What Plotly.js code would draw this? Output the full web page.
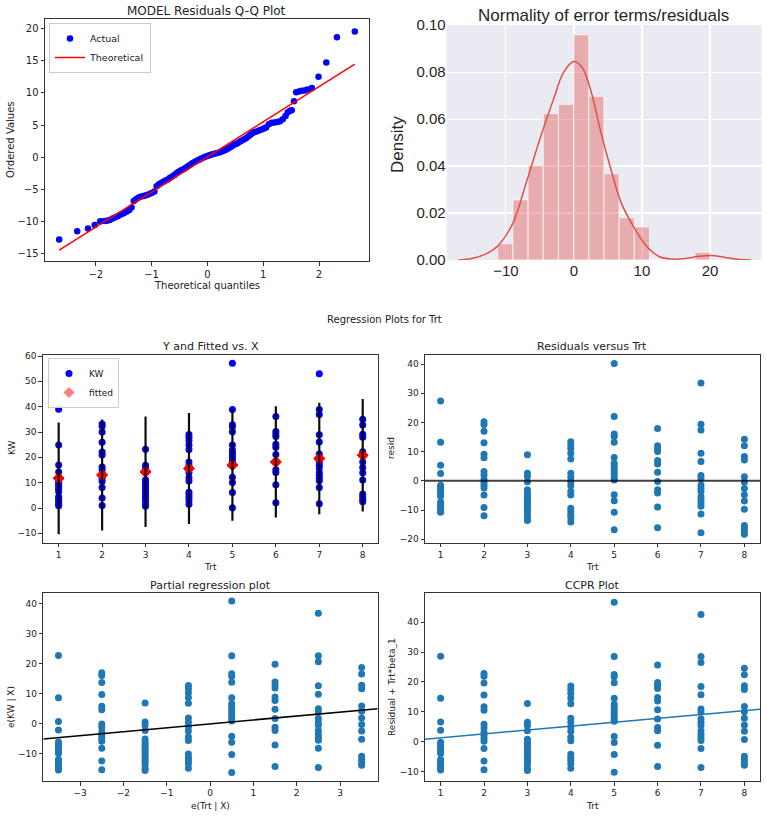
<!DOCTYPE html>
<html><head><meta charset="utf-8">
<script src="https://cdn.plot.ly/plotly-3.0.1.min.js"></script>
<style>html,body{margin:0;padding:0;background:#fff}#chart{width:767px;height:816px}</style>
</head><body><div id="chart"></div>
<script>
// ---------- Q-Q plot ----------
const qqTheoretical = [-2.656,-2.333,-2.14,-2.02,-1.92,-1.85,-1.80,-1.75,-1.70,-1.65,-1.60,-1.55,-1.50,-1.45,-1.40,-1.36,-1.32,-1.28,-1.24,-1.20,-1.15,-1.10,-1.05,-1.00,-0.95,-0.91,-0.87,-0.83,-0.79,-0.75,-0.71,-0.67,-0.63,-0.59,-0.55,-0.51,-0.47,-0.43,-0.39,-0.35,-0.31,-0.27,-0.23,-0.19,-0.15,-0.11,-0.07,-0.03,0.01,0.05,0.09,0.13,0.17,0.21,0.25,0.29,0.33,0.37,0.41,0.45,0.49,0.53,0.57,0.61,0.65,0.69,0.73,0.77,0.81,0.85,0.89,0.93,0.97,1.01,1.05,1.10,1.15,1.20,1.25,1.30,1.35,1.40,1.44,1.48,1.51,1.55,1.59,1.64,1.69,1.74,1.79,1.87,1.99,2.13,2.32,2.64];
const qqOrdered = [-12.75,-11.5,-11.05,-10.5,-9.95,-9.9,-9.85,-9.75,-9.5,-9.3,-9.1,-8.9,-8.7,-8.45,-8.2,-7.8,-6.8,-6.5,-6.3,-6.15,-6.0,-5.9,-5.75,-5.55,-5.3,-4.5,-4.2,-4.0,-3.8,-3.6,-3.45,-3.2,-3.0,-2.75,-2.45,-2.2,-2.0,-1.85,-1.65,-1.4,-1.15,-0.95,-0.75,-0.55,-0.4,-0.2,-0.05,0.1,0.25,0.35,0.45,0.55,0.65,0.75,0.85,1.0,1.15,1.35,1.55,1.8,2.0,2.15,2.35,2.55,2.75,2.95,3.2,3.5,3.75,3.9,4.05,4.2,4.3,4.45,4.6,5.1,5.35,5.4,5.45,5.6,5.9,6.4,7.0,7.2,7.3,8.7,10.1,10.2,10.3,10.35,10.5,10.75,12.5,14.7,18.6,19.5];
const qqLineX = [-2.656, 2.64];
const qqLineY = [-14.41, 14.43];

// ---------- Histogram + KDE ----------
const histBinCenters = [-10.085,-7.855,-5.625,-3.395,-1.165,1.065,3.295,5.525,7.755,9.985,12.215,14.445,16.675,18.905];
const histDensity = [0.0069,0.0256,0.0403,0.0624,0.0663,0.0959,0.0697,0.0367,0.0180,0.0141,0,0,0,0.0033];
const histBinWidth = 2.23;
const kdeX = [-17,-15,-13,-11.2,-9,-7,-5,-3,-1.5,0,1.2,2.5,4,5.5,7,8.8,10.5,12.5,14.5,16.5,18.5,20.2,22,24,26];
const kdeY = [0.0000,0.0006,0.0025,0.0060,0.0155,0.0330,0.0515,0.0685,0.0800,0.0845,0.0820,0.0720,0.0540,0.0380,0.0240,0.0140,0.0065,0.0015,0.0004,0.0007,0.0016,0.0019,0.0012,0.0003,0.0000];

// ---------- Regression on Trt (residuals per treatment) ----------
const trtLevels = [1,2,3,4,5,6,7,8];
const residTrt1 = [27.3,13.2,5.3,2.5,-1.5,-2.2,-3.0,-3.8,-4.5,-5.3,-7.3,-8.0,-8.7,-9.5,-10.3,-10.8];
const residTrt2 = [20.2,19.3,17.0,13.0,9.1,7.9,3.2,2.0,0.5,-0.5,-1.5,-2.5,-4.9,-9.1,-12.0];
const residTrt3 = [8.9,2.6,1.5,-0.3,-3.1,-4.0,-4.8,-5.6,-6.4,-7.2,-8.0,-8.9,-9.8,-10.6,-11.5,-12.8,-13.6];
const residTrt4 = [13.4,12.3,11.0,9.4,7.5,2.6,1.2,-0.3,-1.7,-3.7,-4.9,-9.4,-10.5,-11.5,-12.6,-14.1];
const residTrt5 = [40.2,22.0,16.0,15.2,13.2,8.0,6.0,5.0,4.0,3.0,2.0,1.0,0.3,-4.8,-6.8,-10.8,-16.8];
const residTrt6 = [17.9,12.0,11.0,10.0,7.0,5.8,2.9,-0.2,-3.1,-4.2,-9.0,-16.1];
const residTrt7 = [33.5,19.4,17.4,9.4,6.6,1.8,0.8,-1.4,-2.6,-3.7,-5.5,-6.6,-7.7,-8.7,-11.4,-17.8];
const residTrt8 = [14.2,12.0,8.3,7.1,1.4,-0.4,-2.6,-4.8,-6.9,-9.7,-15.3,-16.3,-17.3,-18.3];
const interceptB0 = 10.4;
const slopeB1 = 1.3;
const trtMean = 4.5;
const predIntervalHalf = [22.1,21.9,21.8,21.9,21.9,22.0,22.0,22.2];

// ---------- derived per-observation series ----------
const residGroups = [residTrt1,residTrt2,residTrt3,residTrt4,residTrt5,residTrt6,residTrt7,residTrt8];
const obsTrt = [], obsResid = [];
trtLevels.forEach((t,i)=>residGroups[i].forEach(r=>{obsTrt.push(t); obsResid.push(r);}));
const obsFitted = obsTrt.map(t=>interceptB0 + slopeB1*t);
const obsKW = obsResid.map((r,i)=>r + obsFitted[i]);
const kwMean = interceptB0 + slopeB1*trtMean;
const partialX = obsTrt.map(t=>t - trtMean);
const partialY = obsKW.map(v=>v - kwMean);
const ccprY = obsResid.map((r,i)=>r + slopeB1*obsTrt[i]);
const levelFitted = trtLevels.map(t=>interceptB0 + slopeB1*t);

const W = 767, H = 816;
const fx = p => p / W, fy = p => 1 - p / H;

const rangeTrt = [0.64, 8.36];
const rangePartialX = [-3.85, 3.87];

const C0 = '#1f77b4';
const traces = [
  {type:'scatter', mode:'markers', x:qqTheoretical, y:qqOrdered, name:'Actual', marker:{color:'#0000ff', size:6.5}, xaxis:'x', yaxis:'y', legend:'legend'},
  {type:'scatter', mode:'lines', x:qqLineX, y:qqLineY, name:'Theoretical', line:{color:'#ff0000', width:1.5}, xaxis:'x', yaxis:'y', legend:'legend'},
  {type:'bar', x:histBinCenters, y:histDensity, width:histBinWidth, marker:{color:'rgba(225,80,75,0.4)', line:{color:'rgba(255,255,255,0.7)', width:1}}, xaxis:'x2', yaxis:'y2', showlegend:false},
  {type:'scatter', mode:'lines', x:kdeX, y:kdeY, line:{color:'rgb(225,80,75)', width:1.5, shape:'spline', smoothing:1}, xaxis:'x2', yaxis:'y2', showlegend:false},
  {type:'scatter', mode:'markers', x:obsTrt, y:obsKW, name:'KW', marker:{color:'#0000ff', size:7}, xaxis:'x3', yaxis:'y3', legend:'legend2'},
  {type:'scatter', mode:'markers', x:obsTrt, y:obsFitted, name:'fitted', marker:{color:'rgba(255,0,0,0.5)', size:8.5, symbol:'diamond'}, xaxis:'x3', yaxis:'y3', legend:'legend2'},
  {type:'scatter', mode:'markers', x:trtLevels, y:levelFitted, marker:{size:1, color:'rgba(0,0,0,0)'}, error_y:{type:'data', array:predIntervalHalf, visible:true, color:'rgba(0,0,0,0.95)', thickness:2.2, width:0}, xaxis:'x3', yaxis:'y3', showlegend:false},
  {type:'scatter', mode:'markers', x:obsTrt, y:obsResid, marker:{color:C0, size:7}, xaxis:'x4', yaxis:'y4', showlegend:false},
  {type:'scatter', mode:'markers', x:partialX, y:partialY, marker:{color:C0, size:7}, xaxis:'x5', yaxis:'y5', showlegend:false},
  {type:'scatter', mode:'lines', x:rangePartialX, y:rangePartialX.map(v=>slopeB1*v), line:{color:'#000', width:1.5}, xaxis:'x5', yaxis:'y5', showlegend:false},
  {type:'scatter', mode:'markers', x:obsTrt, y:ccprY, marker:{color:C0, size:7}, xaxis:'x6', yaxis:'y6', showlegend:false},
  {type:'scatter', mode:'lines', x:rangeTrt, y:rangeTrt.map(v=>slopeB1*v), line:{color:C0, width:1.5}, xaxis:'x6', yaxis:'y6', showlegend:false}
];

const mpl = (extra) => Object.assign({
  showline:true, mirror:true, linecolor:'#333', linewidth:1,
  ticks:'outside', ticklen:3.5, tickwidth:1, tickcolor:'#333',
  showgrid:false, zeroline:false, fixedrange:true,
  tickfont:{family:'DejaVu Sans', size:9, color:'#222'}
}, extra);
const sns = (extra) => Object.assign({
  showline:false, ticks:'', showgrid:true, gridcolor:'#ffffff', gridwidth:1.2, zeroline:false,
  tickfont:{family:'Liberation Sans, Arial', size:15, color:'#262626'}
}, extra);

const layout = {
  width:W, height:H, margin:{l:0,r:0,t:0,b:0}, paper_bgcolor:'#fff', plot_bgcolor:'rgba(0,0,0,0)',
  font:{family:'DejaVu Sans', color:'#222'},
  xaxis: mpl({domain:[fx(45),fx(369.3)], range:[-2.91,2.9], tickvals:[-2,-1,0,1,2], anchor:'y', tickfont:{family:'DejaVu Sans', size:10, color:'#222'}}),
  yaxis: mpl({domain:[fy(261),fy(19)], range:[-16.1,21.45], tickvals:[-15,-10,-5,0,5,10,15,20], anchor:'x', tickfont:{family:'DejaVu Sans', size:10, color:'#222'}}),
  xaxis2: sns({domain:[fx(446.7),fx(761.7)], range:[-18.7,27.6], tickvals:[-10,0,10,20], anchor:'y2'}),
  yaxis2: sns({domain:[fy(260),fy(25)], range:[0,0.1001], tickvals:[0,0.02,0.04,0.06,0.08,0.10], tickformat:'.2f', anchor:'x2'}),
  xaxis3: mpl({domain:[fx(42.7),fx(377.7)], range:[0.632,8.345], tickvals:trtLevels, anchor:'y3'}),
  yaxis3: mpl({domain:[fy(542.7),fy(355)], range:[-13.7,60.4], tickvals:[-10,0,10,20,30,40,50,60], anchor:'x3'}),
  xaxis4: mpl({domain:[fx(425),fx(760)], range:rangeTrt, tickvals:trtLevels, anchor:'y4'}),
  yaxis4: mpl({domain:[fy(542.7),fy(355)], range:[-21.2,43.1], tickvals:[-20,-10,0,10,20,30,40], anchor:'x4'}),
  xaxis5: mpl({domain:[fx(43.3),fx(377.7)], range:rangePartialX, tickvals:[-3,-2,-1,0,1,2,3], anchor:'y5'}),
  yaxis5: mpl({domain:[fy(781),fy(593.3)], range:[-19,43.4], tickvals:[-10,0,10,20,30,40], anchor:'x5'}),
  xaxis6: mpl({domain:[fx(425),fx(760)], range:rangeTrt, tickvals:trtLevels, anchor:'y6'}),
  yaxis6: mpl({domain:[fy(781),fy(593.3)], range:[-13.2,49.7], tickvals:[-10,0,10,20,30,40], anchor:'x6'}),
  legend: {x:fx(49), y:fy(23), xanchor:'left', yanchor:'top', bgcolor:'rgba(255,255,255,0.85)', bordercolor:'#cccccc', borderwidth:1, font:{family:'DejaVu Sans', size:9.5, color:'#222'}, itemwidth:30, tracegroupgap:0},
  legend2: {x:fx(48), y:fy(358), xanchor:'left', yanchor:'top', bgcolor:'rgba(255,255,255,0.85)', bordercolor:'#cccccc', borderwidth:1, font:{family:'DejaVu Sans', size:9, color:'#222'}, itemwidth:30, tracegroupgap:0},
  shapes: [
    {type:'rect', xref:'x2 domain', yref:'y2 domain', x0:0, x1:1, y0:0, y1:1, fillcolor:'#EAEAF2', line:{width:0}, layer:'below'},
    {type:'line', xref:'x4 domain', yref:'y4', x0:0, x1:1, y0:0, y1:0, line:{color:'rgba(0,0,0,0.75)', width:2}, layer:'above'}
  ],
  annotations: []
};

const ann = (text, px, py, size, opts) => Object.assign({
  text, x:fx(px), y:fy(py), xref:'paper', yref:'paper', xanchor:'center', yanchor:'middle', showarrow:false,
  font:{family:'DejaVu Sans', size, color:'#222'}
}, opts||{});
layout.annotations.push(
  ann('MODEL Residuals Q-Q Plot', 207, 10.7, 12),
  ann('Theoretical quantiles', 207, 285, 10),
  ann('Ordered Values', 10, 140, 10, {textangle:-90}),
  ann('Normality of error terms/residuals', 603, 15, 17, {font:{family:'Liberation Sans, Arial', size:17, color:'#262626'}}),
  ann('Density', 397, 145, 17, {textangle:-90, font:{family:'Liberation Sans, Arial', size:17, color:'#262626'}}),
  ann('Regression Plots for Trt', 384, 320, 10),
  ann('Y and Fitted vs. X', 210, 346.5, 11),
  ann('KW', 12, 448, 9, {textangle:-90}),
  ann('Trt', 210, 567, 9),
  ann('Residuals versus Trt', 592, 346.5, 11),
  ann('resid', 391, 448, 9, {textangle:-90}),
  ann('Trt', 592, 567, 9),
  ann('Partial regression plot', 210, 585, 11),
  ann('e(KW | X)', 11, 707, 9, {textangle:-90}),
  ann('e(Trt | X)', 210, 806, 9),
  ann('CCPR Plot', 592, 585, 11),
  ann('Residual + Trt*beta_1', 392, 687, 9, {textangle:-90}),
  ann('Trt', 592, 806, 9)
);

Plotly.newPlot('chart', traces, layout, {displayModeBar:false, staticPlot:true});
</script>
</body></html>
